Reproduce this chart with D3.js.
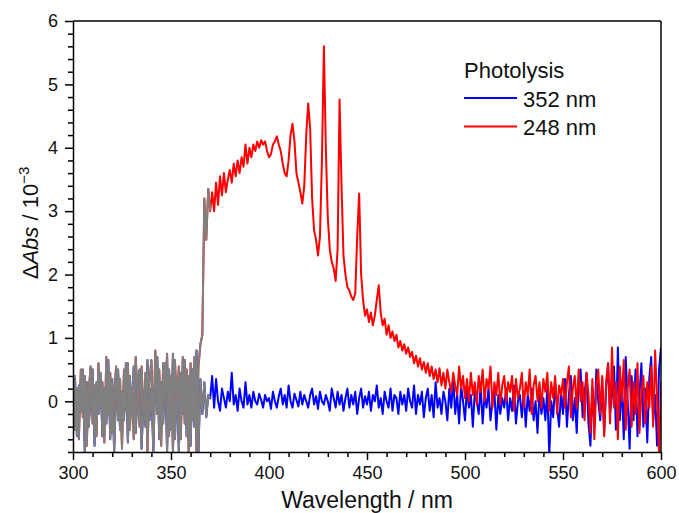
<!DOCTYPE html>
<html>
<head>
<meta charset="UTF-8">
<title>Photolysis spectra</title>
<script src="https://d3js.org/d3.v7.min.js"></script>
<style>
  body { margin: 0; background: #fff; }
  svg { display: block; font-family: Arial, "Liberation Sans", sans-serif; }
  .axis path, .axis line { stroke: #000; stroke-width: 1.5px; }
  .axis text { font-size: 18px; fill: #111; }
  .series { fill: none; stroke-width: 2px; stroke-linejoin: round; }
</style>
</head>
<body>
<div id="chart"></div>
<script>
// wavelength grid, 1 nm steps
const wavelengths = d3.range(300, 601);

// 352 nm photolysis, ΔAbs / 10^-3
const blueAbs = [
  -0.3, 0.4, -0.55, 0.25, -0.15, 0.5, -0.8, 0.3, -0.4, 0.1,
  0.5, -0.7, 0.3, -0.2, 0.45, -0.55, 0.2, -0.35, 0.65, -0.6,
  0.35, -0.8, 0.2, 0.5, -0.45, 0.15, -0.3, 0.6, -0.65, 0.4,
  -0.2, 0.55, -0.5, 0.3, 0.5, -0.75, 0.1, -0.4, 0.65, -0.3,
  0.2, -0.8, 0.45, 0.7, -0.6, 0.3, -0.35, 0.6, -0.8, 0.5,
  -0.45, 0.75, -0.6, 0.3, -0.8, 0.45, -0.2, 0.65, -0.55, 0.4,
  -0.7, 0.5, -0.4, 0.8, -0.8, 0.35, -0.2, 0.3, -0.25, 0.1,
  0.05, 0.4, -0.1, 0.35, 0.0, -0.15, 0.2, 0.05, -0.1, 0.15,
  0.0, 0.45, -0.05, 0.1, -0.15, 0.2, 0.0, -0.1, 0.3, -0.05,
  0.1, -0.1, 0.15, 0.0, -0.05, 0.12, 0.02, -0.1, 0.1, 0.0,
  0.05, -0.12, 0.15, 0.0, -0.1, 0.08, 0.2, -0.05, 0.1, -0.1,
  0.25, 0.0, -0.1, 0.12, 0.02, -0.08, 0.15, -0.05, 0.1, 0.0,
  -0.1, 0.1, 0.2, -0.05, 0.08, -0.12, 0.15, 0.0, -0.05, 0.1,
  0.0, -0.15, 0.2, 0.05, -0.1, 0.15, -0.05, 0.1, -0.15, 0.05,
  0.2, -0.1, 0.1, -0.05, 0.15, -0.2, 0.05, 0.2, -0.1, 0.08,
  -0.05, 0.15, -0.15, 0.1, 0.0, 0.25, -0.1, 0.05, -0.2, 0.15,
  0.0, -0.1, 0.2, -0.15, 0.1, 0.05, -0.2, 0.15, -0.05, 0.1,
  -0.15, 0.2, 0.0, -0.1, 0.25, -0.2, 0.1, -0.05, 0.15, -0.25,
  0.05, 0.2, -0.15, 0.1, -0.25, 0.3, -0.1, 0.05, -0.2, 0.15,
  0.0, -0.3, 0.2, -0.1, 0.35, -0.2, 0.1, -0.35, 0.25, 0.0,
  -0.3, 0.2, -0.1, 0.1, -0.4, 0.15, 0.0, -0.2, 0.25, -0.35,
  0.1, -0.1, 0.2, -0.3, 0.0, 0.15, -0.45, 0.1, -0.2, 0.05,
  -0.1, 0.2, -0.3, 0.05, -0.15, 0.25, -0.35, 0.0, 0.1, -0.25,
  0.15, -0.4, 0.1, -0.15, 0.2, -0.3, 0.0, -0.5, 0.15, -0.2,
  0.05, -0.3, 0.2, -0.85, 0.0, -0.25, 0.3, -0.1, -0.4, 0.15,
  -0.2, 0.35, -0.4, 0.1, 0.4, -0.3, 0.05, -0.5, 0.3, 0.5,
  -0.25, 0.1, 0.45, -0.35, -0.7, 0.2, -0.4, 0.5, 0.0, -0.3,
  0.35, -0.5, 0.2, 0.6, -0.2, 0.1, 0.55, -0.45, 0.85, -0.3,
  0.3, -0.6, 0.7, 0.0, -0.75, 0.4, -0.3, 0.5, -0.55, 0.1,
  0.6, -0.4, 0.2, -0.65, 0.35, 0.7, -0.3, 0.1, -0.7, 0.5,
  0.85
];

// 248 nm photolysis, ΔAbs / 10^-3
const redAbs = [
  0.35, -0.45, 0.2, -0.6, 0.5, -0.25, 0.4, -0.7, 0.15, 0.55,
  -0.35, 0.25, -0.55, 0.6, -0.1, 0.3, -0.65, 0.7, -0.2, 0.45,
  -0.5, 0.1, 0.55, -0.3, 0.35, -0.75, 0.5, -0.15, 0.6, -0.45,
  0.2, -0.6, 0.7, 0.05, -0.4, 0.55, -0.3, 0.45, -0.8, 0.3,
  0.65, -0.5, 0.8, -0.2, 0.5, -0.7, 0.6, 0.0, 0.75, -0.55,
  0.4, -0.8, 0.65, -0.1, 0.55, -0.6, 0.7, -0.35, 0.5, -0.8,
  0.6, -0.3, 0.7, -0.8, 0.55, 0.9, 1.05, 3.2, 2.55, 3.35,
  3.0, 3.3, 3.0, 3.45, 3.1, 3.55, 3.25, 3.6, 3.3, 3.5,
  3.65, 3.45, 3.75, 3.55, 3.8, 3.6, 3.85, 3.7, 4.05, 3.75,
  4.0, 3.85, 4.05, 3.95, 4.1, 4.0, 4.12, 4.05, 4.1, 3.95,
  3.85, 3.9, 4.05, 4.1, 4.18, 4.05, 3.95, 3.75, 3.6, 3.55,
  3.8, 4.2, 4.38, 4.1, 3.6, 3.45, 3.3, 3.12, 3.4, 4.2,
  4.7, 4.3, 3.2, 2.7, 2.55, 2.3, 2.6, 3.8, 5.6, 4.0,
  2.9, 2.4, 2.2, 2.1, 1.9, 2.4, 4.76, 3.4, 2.3, 2.0,
  1.8, 1.75, 1.65, 1.6, 1.7, 2.6, 3.28, 2.0, 1.6, 1.35,
  1.45, 1.25, 1.4, 1.2, 1.35, 1.6, 1.83, 1.4, 1.2, 1.3,
  1.05, 1.2, 1.0, 1.1, 0.95, 1.05, 0.85, 0.95, 0.8, 0.9,
  0.75, 0.85, 0.7, 0.78, 0.6, 0.72, 0.55, 0.68, 0.5, 0.62,
  0.45, 0.6, 0.4, 0.55, 0.35, 0.5, 0.3, 0.52, 0.25, 0.45,
  0.2, 0.5, 0.3, 0.15, 0.45, 0.25, 0.1, 0.55, 0.2, 0.4,
  0.05, 0.35, 0.0, 0.45, 0.1, 0.3, -0.05, 0.4, 0.15, 0.5,
  0.0, 0.35, 0.2, 0.55, -0.1, 0.3, 0.1, 0.45, -0.05, 0.25,
  0.4, 0.0, 0.3, 0.15, 0.4, -0.15, 0.35, 0.05, 0.2, 0.45,
  -0.1, 0.3, 0.1, 0.5, -0.2, 0.25, 0.4, 0.0, 0.3, -0.1,
  0.35, 0.15, 0.45, -0.15, 0.3, 0.05, 0.4, -0.2, 0.25, 0.1,
  0.35, -0.1, 0.3, 0.55, -0.25, 0.2, 0.4, -0.1, 0.5, 0.0,
  0.3, -0.3, 0.45, 0.1, -0.5, 0.35, -0.6, 0.25, 0.5, -0.2,
  0.4, -0.55, 0.3, 0.6, -0.35, 0.85, -0.1, 0.3, -0.6, 0.55,
  0.0, 0.65, -0.45, 0.2, 0.5, -0.4, 0.3, -0.2, 0.6, -0.5,
  0.15, 0.4, -0.35, 0.3, -0.1, 0.55, -0.4, 0.8, 0.05, -0.8,
  0.3
];

// below this wavelength both traces are drawn in grey
const greyLimit = 370;

const xTicks = [300, 350, 400, 450, 500, 550, 600];
const yTicks = [0, 1, 2, 3, 4, 5, 6];
const legendTitle = "Photolysis";
const seriesNames = ["352 nm", "248 nm"];
const seriesColors = ["#0000ff", "#ff0000"];

const W = 679, H = 513;
const margin = {top: 21, right: 18, bottom: 61, left: 73};
const iw = W - margin.left - margin.right,
      ih = H - margin.top - margin.bottom;

const svg = d3.select("#chart").append("svg")
    .attr("width", W)
    .attr("height", H);

const g = svg.append("g")
    .attr("transform", `translate(${margin.left},${margin.top})`);

const x = d3.scaleLinear().domain([300, 600]).range([0, iw]);
const y = d3.scaleLinear().domain([-0.8, 6]).range([ih, 0]);

g.append("clipPath").attr("id", "plot-clip")
  .append("rect").attr("width", iw).attr("height", ih);

const line = d3.line()
    .x(d => x(d[0]))
    .y(d => y(d[1]));

const bluePts = wavelengths.map((w, i) => [w, blueAbs[i]]);
const redPts = wavelengths.map((w, i) => [w, redAbs[i]]);

const plot = g.append("g").attr("clip-path", "url(#plot-clip)");

plot.append("path").attr("class", "series")
    .attr("stroke", seriesColors[0]).attr("d", line(bluePts));
plot.append("path").attr("class", "series")
    .attr("stroke", seriesColors[1]).attr("d", line(redPts));

// grey overlay of the short-wavelength part
[bluePts, redPts].forEach(pts => {
  plot.append("path").attr("class", "series")
      .attr("stroke", "#808080")
      .attr("d", line(pts.filter(p => p[0] <= greyLimit)));
});

// axes
const xMinor = d3.range(300, 601, 10).filter(v => !xTicks.includes(v));
const yMinor = d3.range(-8, 61, 2).map(v => v / 10).filter(v => !yTicks.includes(v));

g.append("g").attr("class", "axis")
    .attr("transform", `translate(0,${ih})`)
    .call(d3.axisBottom(x).tickValues(xMinor).tickSize(5).tickFormat(""))
    .call(a => a.select(".domain").remove());
g.append("g").attr("class", "axis")
    .attr("transform", `translate(0,${ih})`)
    .call(d3.axisBottom(x).tickValues(xTicks).tickSize(8).tickPadding(6).tickSizeOuter(0));

g.append("g").attr("class", "axis")
    .call(d3.axisLeft(y).tickValues(yMinor).tickSize(5).tickFormat(""))
    .call(a => a.select(".domain").remove());
g.append("g").attr("class", "axis")
    .call(d3.axisLeft(y).tickValues(yTicks).tickFormat(d3.format("d"))
      .tickSize(8).tickPadding(7).tickSizeOuter(0));

// top and right frame
g.append("line").attr("x1", 0).attr("x2", iw).attr("y1", 0).attr("y2", 0)
    .attr("stroke", "#000").attr("stroke-width", 1.5);
g.append("line").attr("x1", iw).attr("x2", iw).attr("y1", 0).attr("y2", ih)
    .attr("stroke", "#000").attr("stroke-width", 1.5);

// axis titles
svg.append("text")
    .attr("x", margin.left + iw / 2)
    .attr("y", 508)
    .attr("text-anchor", "middle")
    .attr("font-size", 23)
    .attr("fill", "#111")
    .text("Wavelength / nm");

const yt = svg.append("text")
    .attr("transform", "translate(38,223) rotate(-90)")
    .attr("text-anchor", "middle")
    .attr("font-size", 22)
    .attr("fill", "#111");
yt.append("tspan").text("Δ");
yt.append("tspan").attr("font-style", "italic").text("Abs");
yt.append("tspan").text(" / 10");
yt.append("tspan").attr("font-size", 15).attr("dy", -9).text("−3");

// legend
const leg = svg.append("g").attr("transform", "translate(464,0)");
leg.append("text").attr("x", 0).attr("y", 78)
    .attr("font-size", 22).attr("fill", "#111").text(legendTitle);
seriesNames.forEach((name, i) => {
  const ly = 98 + i * 28.5;
  leg.append("line").attr("x1", 0).attr("x2", 53).attr("y1", ly).attr("y2", ly)
      .attr("stroke", seriesColors[i]).attr("stroke-width", 2);
  leg.append("text").attr("x", 59).attr("y", ly + 8.5)
      .attr("font-size", 22).attr("fill", "#111").text(name);
});
</script>
</body>
</html>
